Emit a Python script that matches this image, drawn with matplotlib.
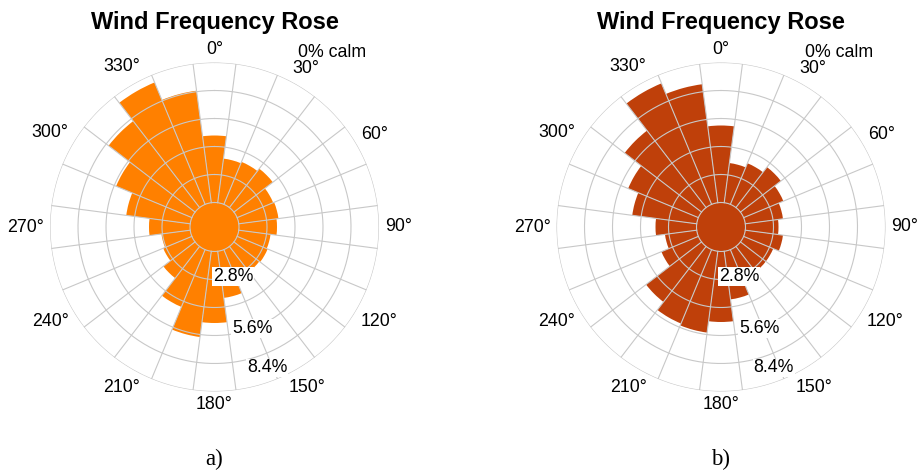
import numpy as np
import matplotlib.pyplot as plt

plt.rcParams['font.family'] = ['Liberation Sans', 'DejaVu Sans']

# wind direction bins (deg, clockwise from north) and frequencies in %
directions = np.arange(0, 360, 15)
freq_a = [6.7, 4.45, 4.6, 4.9, 3.9, 4.0, 3.8, 3.2, 3.3, 3.2, 3.6, 4.7,
          7.15, 8.65, 6.2, 4.0, 3.1, 2.9, 4.1, 6.45, 8.2, 10.9, 13.2, 11.3]
freq_b = [7.7, 4.0, 4.45, 5.1, 4.3, 3.8, 3.3, 3.8, 3.2, 3.2, 3.5, 4.85,
          7.05, 8.2, 8.0, 7.0, 4.0, 3.2, 4.1, 6.5, 7.6, 9.7, 13.1, 11.95]
color_a = '#FF8000'
color_b = '#BF400A'

ring_step = 2.8
n_rings = 5
ring_labels = ['2.8%', '5.6%', '8.4%']
ring_label_pos = [1, 3, 4.5]      # where the labels sit (in ring steps)
angle_ticks = np.arange(0, 360, 30)
calm_text = '0% calm'
title = 'Wind Frequency Rose'

PX = 10.0                      # pixels per data unit (1 %)
r0 = 24.5 / PX                 # radius of the calm circle
r_out = r0 + n_rings * ring_step
grid_col = '#C8C8C8'
fs = 12.8


def rose(ax, freq, color):
    ax.set_theta_zero_location('N')
    ax.set_theta_direction(-1)
    ax.axis('off')
    ax.set_ylim(0, r_out)

    th = np.deg2rad(directions)
    w = np.deg2rad(15)
    ax.bar(th, freq, width=w, bottom=r0, color=color, linewidth=0, zorder=2)
    ax.bar(0, r0, width=2 * np.pi, bottom=0, color=color, linewidth=0, zorder=2)

    # grid
    t = np.linspace(0, 2 * np.pi, 400)
    for k in range(n_rings + 1):
        ax.plot(t, np.full_like(t, r0 + k * ring_step), color=grid_col, lw=0.8, zorder=3)
    for a in np.arange(7.5, 360, 15):
        ax.plot([np.deg2rad(a)] * 2, [r0, r_out], color=grid_col, lw=0.8, zorder=3)

    # direction labels
    em = fs * 100 / 72
    for a in angle_ticks:
        s = f'{a}°'
        wpx = em * (0.556 * len(str(a)) + 0.4)
        rad = r_out * PX + 6 + 0.5 * (wpx * abs(np.sin(np.deg2rad(a))) + 0.75 * em * abs(np.cos(np.deg2rad(a))))
        ax.text(np.deg2rad(a), rad / PX, s, ha='center', va='center', fontsize=fs,
                clip_on=False)

    # frequency labels
    for lab, k in zip(ring_labels, ring_label_pos):
        ax.text(np.deg2rad(159.5), r0 + k * ring_step, lab, ha='center', va='center',
                fontsize=fs, zorder=5,
                bbox=dict(facecolor='white', edgecolor='none', pad=0.6))

    ax.text(0.8587, 1.031, calm_text, transform=ax.transAxes, ha='center', va='center',
            fontsize=fs)


fig = plt.figure(figsize=(9.23, 4.72), dpi=100)
W, H = 923, 472
size = 2 * r_out * PX
for cx, freq, col, tag in [(214.5, freq_a, color_a, 'a)'), (721, freq_b, color_b, 'b)')]:
    ax = fig.add_axes([(cx - size / 2) / W, (H - 227 - size / 2) / H, size / W, size / H],
                      projection='polar')
    rose(ax, freq, col)
    fig.text(cx / W, 1 - 22.5 / H, title, ha='center', va='center', fontsize=17,
             fontweight='bold')
    fig.text(cx / W, 1 - 459 / H, tag, ha='center', va='center', fontsize=16.5,
             family='Liberation Serif')

fig.savefig('out.png', dpi=100)
